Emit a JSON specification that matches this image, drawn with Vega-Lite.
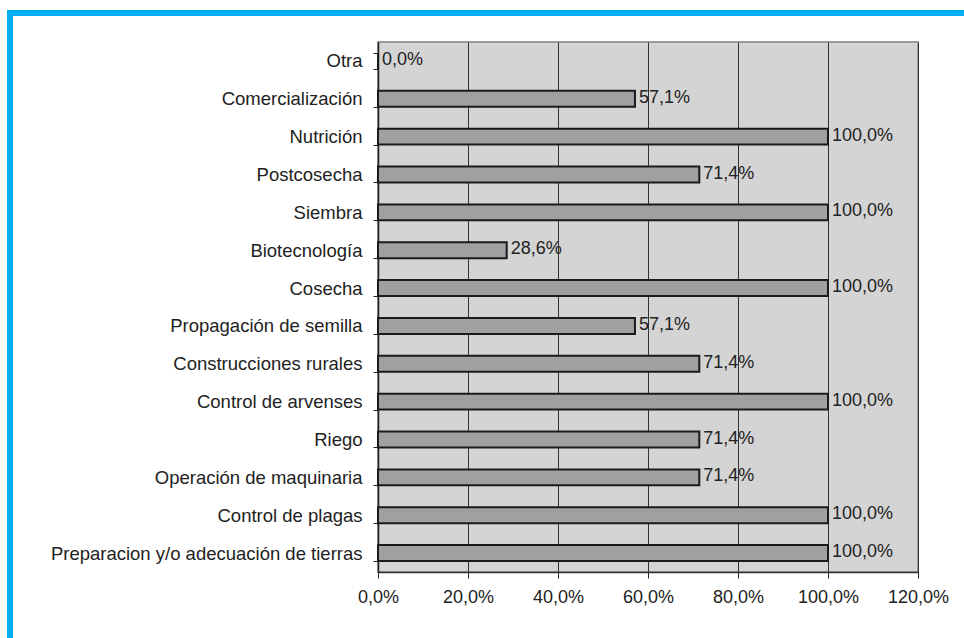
{
  "$schema": "https://vega.github.io/schema/vega-lite/v6.json",
  "background": "white",
  "padding": {"left": 7, "top": 10, "right": 0, "bottom": 0},
  "config": {
    "locale": {"number": {"decimal": ",", "thousands": ".", "grouping": [3], "currency": ["", " €"]}},
    "font": "Liberation Sans",
    "concat": {"spacing": 0}
  },
  "spacing": 0,
  "vconcat": [
    {
      "width": 957,
      "height": 6,
      "view": {"fill": "#00AEEF", "stroke": null},
      "data": {"values": []},
      "mark": {"type": "text", "text": ""},
      "encoding": {}
    },
    {
      "spacing": 0,
      "hconcat": [
        {
          "width": 6,
          "height": 622,
          "view": {"fill": "#00AEEF", "stroke": null},
          "data": {"values": []},
          "mark": {"type": "text", "text": ""},
          "encoding": {}
        },
        {
          "spacing": 15,
          "vconcat": [
            {
              "width": 540,
              "height": 1,
              "view": {"stroke": null},
              "data": {"values": []},
              "mark": {"type": "text", "text": ""},
              "encoding": {}
            },
            {
              "width": 540,
              "height": 530,
              "view": {"fill": "#d4d4d4", "stroke": "#9a9a9a", "strokeWidth": 2},
              "data": {
                "values": [
                  {"cat": "Otra", "v": 0},
                  {"cat": "Comercialización", "v": 0.571},
                  {"cat": "Nutrición", "v": 1.0},
                  {"cat": "Postcosecha", "v": 0.714},
                  {"cat": "Siembra", "v": 1.0},
                  {"cat": "Biotecnología", "v": 0.286},
                  {"cat": "Cosecha", "v": 1.0},
                  {"cat": "Propagación de semilla", "v": 0.571},
                  {"cat": "Construcciones rurales", "v": 0.714},
                  {"cat": "Control de arvenses", "v": 1.0},
                  {"cat": "Riego", "v": 0.714},
                  {"cat": "Operación de maquinaria", "v": 0.714},
                  {"cat": "Control de plagas", "v": 1.0},
                  {"cat": "Preparacion y/o adecuación de tierras", "v": 1.0}
                ]
              },
              "encoding": {
                "y": {
                  "field": "cat",
                  "type": "nominal",
                  "sort": null,
                  "scale": {"paddingInner": 0.58, "paddingOuter": 0.29},
                  "axis": {
                    "title": null,
                    "tickBand": "extent",
                    "tickSize": 5,
                    "tickColor": "#222",
                    "domainColor": "#222",
                    "domainWidth": 1.5,
                    "labelFontSize": 18.5,
                    "labelColor": "#222",
                    "labelPadding": 11,
                    "labelLimit": 400,
                    "minExtent": 364,
                    "maxExtent": 364
                  }
                },
                "x": {
                  "field": "v",
                  "type": "quantitative",
                  "scale": {"domain": [0, 1.2], "nice": false},
                  "axis": {
                    "title": null,
                    "values": [0, 0.2, 0.4, 0.6, 0.8, 1.0, 1.2],
                    "format": ".1%",
                    "grid": true,
                    "gridColor": "#333",
                    "gridWidth": 1,
                    "tickSize": 6,
                    "tickColor": "#222",
                    "domainColor": "#333",
                    "domainWidth": 1.5,
                    "labelFontSize": 18,
                    "labelColor": "#222",
                    "labelPadding": 10,
                    "labelOverlap": false,
                    "labelFlush": false
                  }
                }
              },
              "layer": [
                {
                  "mark": {"type": "bar", "fill": "#a0a0a0", "stroke": "#1a1a1a", "strokeWidth": 2}
                },
                {
                  "mark": {"type": "text", "align": "left", "baseline": "middle", "dx": 4, "dy": -1, "fontSize": 18, "color": "#222"},
                  "encoding": {
                    "text": {"field": "v", "type": "quantitative", "format": ".1%"}
                  }
                }
              ]
            }
          ]
        }
      ]
    }
  ]
}
